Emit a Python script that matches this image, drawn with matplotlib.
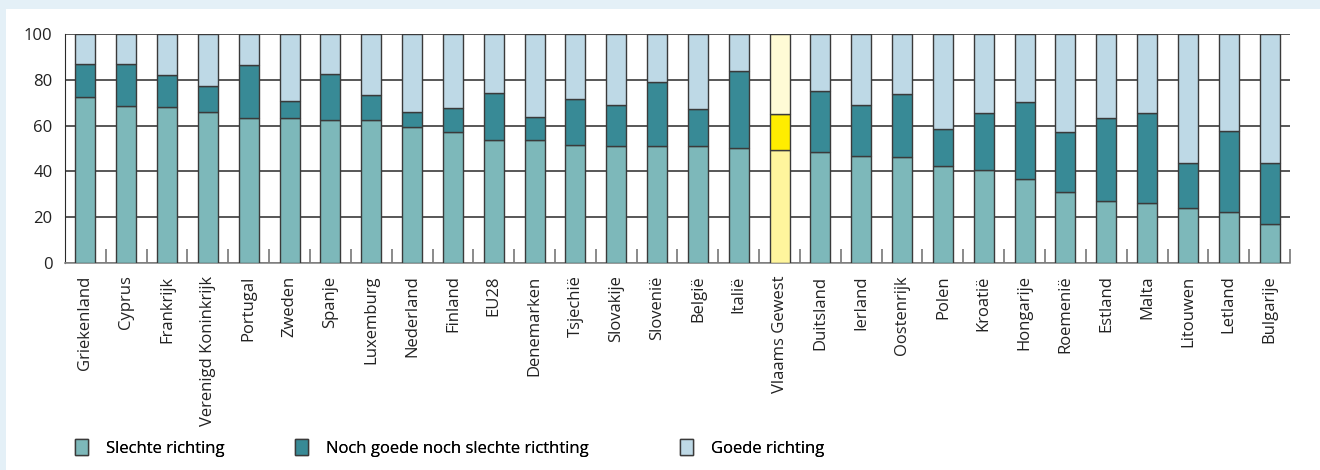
import matplotlib
matplotlib.use("Agg")
import matplotlib.pyplot as plt
from matplotlib.patches import Patch, Rectangle
import numpy as np

plt.rcParams['font.family'] = ['Open Sans', 'DejaVu Sans']

# landen, gesorteerd op "slechte richting"
landen = ['Griekenland', 'Cyprus', 'Frankrijk', 'Verenigd Koninkrijk', 'Portugal',
          'Zweden', 'Spanje', 'Luxemburg', 'Nederland', 'Finland', 'EU28',
          'Denemarken', 'Tsjechië', 'Slovakije', 'Slovenië', 'België', 'Italië',
          'Vlaams Gewest', 'Duitsland', 'Ierland', 'Oostenrijk', 'Polen', 'Kroatië',
          'Hongarije', 'Roemenië', 'Estland', 'Malta', 'Litouwen', 'Letland', 'Bulgarije']

slecht = [72.4, 68.6, 68.0, 65.8, 63.5, 63.5, 62.6, 62.6, 59.4, 57.0, 53.9,
          53.9, 51.7, 51.3, 51.3, 51.3, 50.3, 49.3, 48.3, 46.8, 46.1, 42.3, 40.7,
          36.8, 30.8, 27.2, 26.2, 24.0, 22.2, 16.9]
# cumulatieve bovengrens van "noch goede noch slechte"
cum_noch = [87.1, 87.1, 82.3, 77.2, 86.6, 70.8, 82.7, 73.5, 66.1, 67.6, 74.4,
            63.8, 71.8, 68.8, 79.1, 67.2, 83.9, 65.0, 74.9, 68.8, 73.8, 58.6, 65.4,
            70.1, 57.4, 63.5, 65.3, 43.5, 57.6, 43.5]

reeksen = ['Slechte richting', 'Noch goede noch slechte ricthting', 'Goede richting']

slecht = np.array(slecht)
noch = np.array(cum_noch) - slecht
goed = 100 - np.array(cum_noch)

c_slecht, c_noch, c_goed = '#7db8ba', '#388a96', '#bed9e6'
geel = ['#fff59d', '#ffed00', '#fffbd6']
hl = landen.index('Vlaams Gewest')

fig = plt.figure(figsize=(13.2, 4.7), dpi=100, facecolor='#e4f0f7')
fig.patches.append(Rectangle((6 / 1320, 0), 1, 1 - 9 / 470, transform=fig.transFigure,
                             facecolor='white', edgecolor='none', zorder=-5))
ax = fig.add_axes([65 / 1320, 1 - 263 / 470, 1225 / 1320, 229 / 470])
ax.set_facecolor('none')
ax.set_zorder(2)

x = np.arange(len(landen))
kl1 = [c_slecht] * len(x); kl1[hl] = geel[0]
kl2 = [c_noch] * len(x); kl2[hl] = geel[1]
kl3 = [c_goed] * len(x); kl3[hl] = geel[2]
kw = dict(width=0.49, edgecolor='#3a3a3a', linewidth=1, zorder=3)
ax.bar(x, slecht, color=kl1, **kw)
ax.bar(x, noch, bottom=slecht, color=kl2, **kw)
ax.bar(x, goed, bottom=slecht + noch, color=kl3, **kw)

ax.set_xlim(-0.5, len(x) - 0.5)
ax.set_ylim(0, 100)
ax.set_yticks([0, 20, 40, 60, 80, 100])
ax.yaxis.grid(True, color='#2a2a2a', linewidth=1.1, zorder=1)
ax.set_axisbelow(True)
ax.tick_params(axis='y', length=0, labelsize=12, pad=9, labelcolor='#222222')

ax.set_xticks(x)
ax.set_xticklabels(landen, rotation=90, fontsize=12, color='#222222')
ax.set_xticks(list(x + 0.5), minor=True)
ax.tick_params(axis='x', which='major', length=0, pad=9)
ax.tick_params(axis='x', which='minor', direction='in', length=10, color='#777777', width=1.2)

for s in ['top', 'right']:
    ax.spines[s].set_visible(False)
ax.spines['left'].set_color('#2a2a2a')
ax.spines['bottom'].set_color('#888888')
ax.spines['bottom'].set_linewidth(1.2)

# legenda: drie losse items, ongelijk verdeeld zoals in het origineel
for naam, kleur, xpos in zip(reeksen, [c_slecht, c_noch, c_goed], [75, 295, 680]):
    leg = fig.legend(handles=[Patch(facecolor=kleur, edgecolor='#3a3a3a', label=naam)],
                     loc='center left', bbox_to_anchor=(xpos / 1320, 1 - 448 / 470),
                     frameon=False, fontsize=12, handlelength=0.75, handleheight=1.1,
                     handletextpad=1.1, borderpad=0, borderaxespad=0)
    fig.add_artist(leg)

fig.savefig('out.png', dpi=100, facecolor=fig.get_facecolor())
